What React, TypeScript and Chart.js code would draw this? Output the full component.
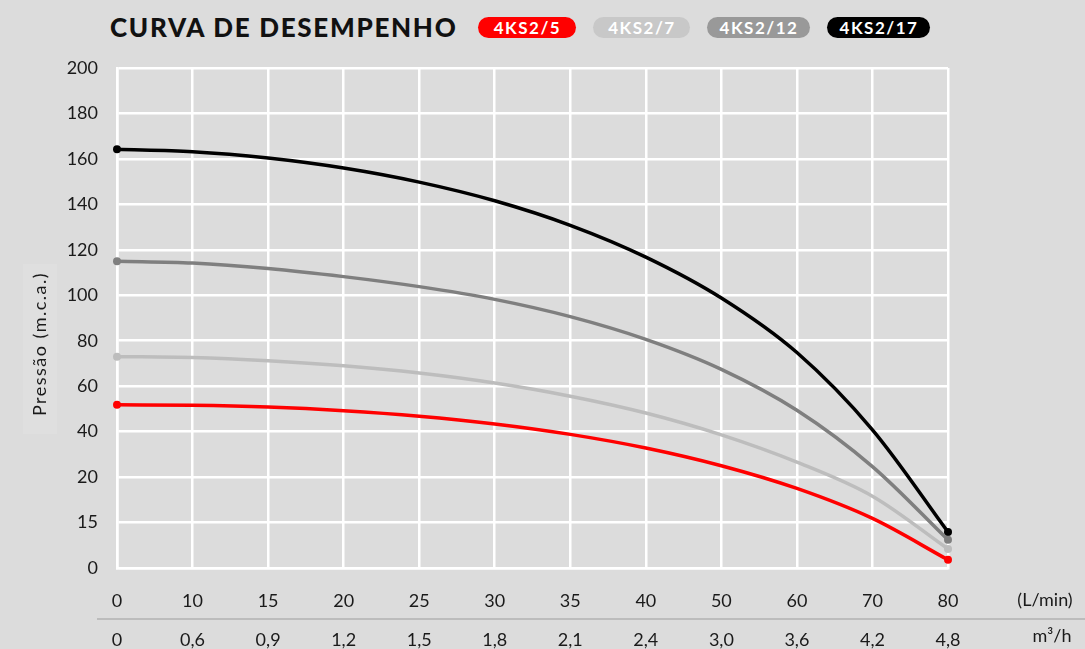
import React, { useEffect, useRef } from "react";
import { Chart, registerables } from "chart.js";

Chart.register(...registerables);

const flowLmin = ["0", "10", "15", "20", "25", "30", "35", "40", "50", "60", "70", "80"];
const flowM3h = ["0", "0,6", "0,9", "1,2", "1,5", "1,8", "2,1", "2,4", "3,0", "3,6", "4,2", "4,8"];
const pressureTicks = [0, 15, 20, 40, 60, 80, 100, 120, 140, 160, 180, 200];

const seriesNames = ["4KS2/5", "4KS2/7", "4KS2/12", "4KS2/17"];
const seriesColors = ["#ff0000", "#bdbdbd", "#7f7f7f", "#000000"];
const pillColors = ["#ff0000", "#c8c8c8", "#999999", "#000000"];
const pillWidths = [98, 97, 103, 103];

const ks2_5 = [51.8, 51.6, 50.8, 49.2, 46.8, 43.4, 38.8, 32.8, 25.0, 18.75, 15.45, 2.7];
const ks2_7 = [73.0, 72.6, 71.2, 69.0, 65.8, 61.4, 55.6, 48.2, 38.6, 26.6, 17.9, 6.3];
const ks2_12 = [115.0, 114.2, 111.8, 108.2, 103.8, 98.2, 90.6, 80.6, 67.4, 49.4, 24.6, 9.3];
const ks2_17 = [164.2, 163.2, 160.4, 156.0, 149.8, 141.6, 130.8, 116.8, 98.8, 74.8, 40.8, 11.9];

const seriesValues = [ks2_5, ks2_7, ks2_12, ks2_17];

const FONT = "Lato, 'DejaVu Sans', sans-serif";

function toIndex(v: number): number {
  for (let i = 0; i < pressureTicks.length - 1; i++) {
    const a = pressureTicks[i];
    const b = pressureTicks[i + 1];
    if (v >= a && v <= b) return i + (v - a) / (b - a);
  }
  return pressureTicks.length - 1;
}

const decorPlugin = {
  id: "decor",
  beforeDraw(chart: any) {
    const ctx = chart.ctx;
    ctx.save();
    ctx.fillStyle = "#dfdfdf";
    ctx.fillRect(23, 264, 34, 170);
    ctx.restore();
  },
  afterDraw(chart: any) {
    const ctx = chart.ctx;
    const x2 = chart.scales.x2;
    ctx.save();
    ctx.strokeStyle = "#bcbcbc";
    ctx.lineWidth = 2;
    ctx.beginPath();
    ctx.moveTo(97, x2.top);
    ctx.lineTo(1085, x2.top);
    ctx.stroke();

    ctx.fillStyle = "#1a1a1a";
    ctx.font = `18px ${FONT}`;
    ctx.textAlign = "center";
    ctx.textBaseline = "middle";
    ctx.fillText("(L/min)", 1045, 600);
    ctx.fillText("m³/h", 1052, 636);

    ctx.translate(40, 344);
    ctx.rotate(-Math.PI / 2);
    ctx.font = `18px ${FONT}`;
    try {
      (ctx as any).letterSpacing = "1.5px";
    } catch (e) {}
    ctx.fillText("Pressão (m.c.a.)", 0, 0);
    ctx.restore();
  },
};

export default function App() {
  const ref = useRef<HTMLCanvasElement>(null);

  useEffect(() => {
    document.body.style.margin = "0";
    const canvas = ref.current;
    if (!canvas) return;
    const datasets = seriesValues.map((vals, si) => ({
      label: seriesNames[si],
      data: vals.map((v, i) => ({ x: i, y: toIndex(v) })),
      borderColor: seriesColors[si],
      backgroundColor: seriesColors[si],
      pointBackgroundColor: seriesColors[si],
      pointBorderWidth: 0,
      pointRadius: vals.map((_, i) => (i === 0 || i === vals.length - 1 ? 4 : 0)),
      borderWidth: 3.5,
      cubicInterpolationMode: "monotone" as const,
      fill: false,
      clip: false as any,
    }));
    const tickFont = { family: FONT, size: 18 };
    const chart = new Chart(canvas, {
      type: "line",
      data: { datasets },
      plugins: [decorPlugin],
      options: {
        animation: false,
        responsive: false,
        maintainAspectRatio: false,
        layout: { padding: { top: 68, right: 137, left: 0, bottom: 0 } },
        plugins: {
          legend: { display: false },
          tooltip: { enabled: false },
          title: { display: false },
        },
        scales: {
          x: {
            type: "linear",
            position: "bottom",
            min: 0,
            max: flowLmin.length - 1,
            afterFit: (s: any) => {
              s.height = 51;
            },
            afterBuildTicks: (s: any) => {
              s.ticks = flowLmin.map((_, i) => ({ value: i }));
            },
            ticks: {
              autoSkip: false,
              maxRotation: 0,
              padding: 22,
              color: "#1a1a1a",
              font: tickFont,
              callback: (v: any) => flowLmin[v as number],
            },
            grid: { color: "#ffffff", lineWidth: 2.5, drawTicks: false },
            border: { color: "#ffffff", width: 2.5 },
          },
          x2: {
            type: "linear",
            position: "bottom",
            min: 0,
            max: flowM3h.length - 1,
            afterFit: (s: any) => {
              s.height = 30;
            },
            afterBuildTicks: (s: any) => {
              s.ticks = flowM3h.map((_, i) => ({ value: i }));
            },
            ticks: {
              autoSkip: false,
              maxRotation: 0,
              padding: 10,
              color: "#1a1a1a",
              font: tickFont,
              callback: (v: any) => flowM3h[v as number],
            },
            grid: { display: false, drawTicks: false },
            border: { display: false },
          },
          y: {
            type: "linear",
            min: 0,
            max: pressureTicks.length - 1,
            afterFit: (s: any) => {
              s.width = 117;
            },
            afterBuildTicks: (s: any) => {
              s.ticks = pressureTicks.map((_, i) => ({ value: i }));
            },
            ticks: {
              padding: 19,
              color: "#1a1a1a",
              font: tickFont,
              callback: (v: any) => String(pressureTicks[v as number]),
            },
            grid: { color: "#ffffff", lineWidth: 2.5, drawTicks: false },
            border: { color: "#ffffff", width: 2.5 },
          },
        },
      },
    });
    return () => chart.destroy();
  }, []);

  return (
    <div
      style={{
        position: "absolute",
        left: 0,
        top: 0,
        width: 1085,
        height: 649,
        background: "#dcdcdc",
        overflow: "hidden",
      }}
    >
      <div
        style={{
          position: "absolute",
          left: 110,
          top: 11,
          height: 32,
          display: "flex",
          alignItems: "center",
          fontFamily: FONT,
        }}
      >
        <span
          style={{
            fontWeight: 900,
            fontSize: 26,
            color: "#111",
            letterSpacing: 1.7,
            marginRight: 21,
            whiteSpace: "nowrap",
          }}
        >
          CURVA DE DESEMPENHO
        </span>
        {seriesNames.map((n, i) => (
          <span
            key={n}
            style={{
              background: pillColors[i],
              color: "#ffffff",
              fontWeight: 700,
              fontSize: 17,
              letterSpacing: 1.5,
              borderRadius: 11,
              height: 21,
              lineHeight: "21px",
              width: pillWidths[i],
              textAlign: "center",
              marginRight: 17,
              display: "inline-block",
              whiteSpace: "nowrap",
            }}
          >
            {n}
          </span>
        ))}
      </div>
      <canvas ref={ref} width={1085} height={649} style={{ position: "absolute", left: 0, top: 0 }} />
    </div>
  );
}
